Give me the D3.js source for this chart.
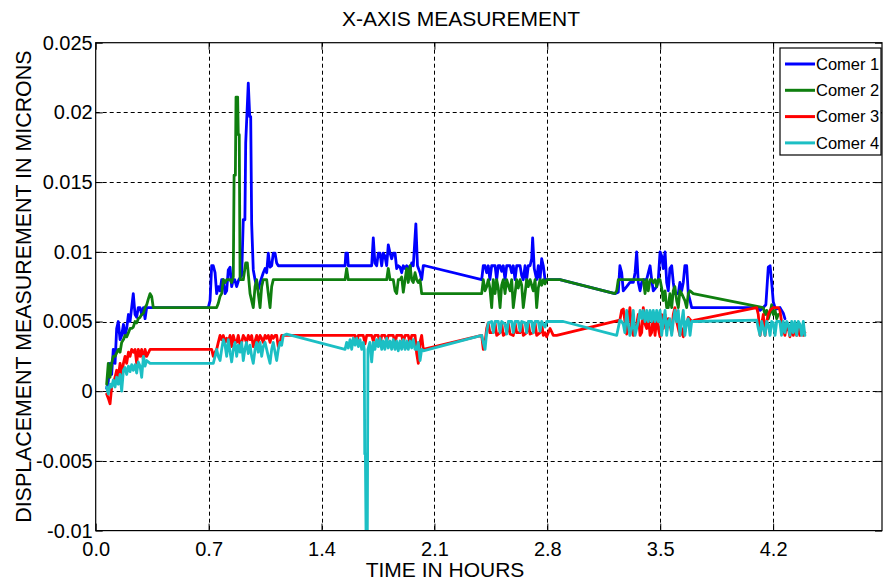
<!DOCTYPE html>
<html>
<head>
<meta charset="utf-8">
<script src="https://cdn.jsdelivr.net/npm/d3@7"></script>
<style>
  html, body { margin: 0; padding: 0; background: #fff; }
  svg { display: block; font-family: "Liberation Sans", Arial, sans-serif; }
</style>
</head>
<body>
<svg id="chart" width="884" height="581"></svg>
<script>
// Displacement readings (microns) against elapsed time (hours), one series per corner.
const seriesNames = ["Comer 1", "Comer 2", "Comer 3", "Comer 4"];
const seriesColors = ["#0000ff", "#0f7f0f", "#ff0000", "#1cbfc4"];

const corner1 = [
  [0.068,0.0002],[0.078,0.0007],[0.089,0.002],[0.099,0.0012],[0.109,0.003],[0.120,0.002],[0.130,0.0045],[0.140,0.005],
  [0.151,0.0037],[0.161,0.004],[0.172,0.0048],[0.182,0.004],[0.192,0.0045],[0.203,0.0055],[0.213,0.005],[0.223,0.006],
  [0.233,0.007],[0.244,0.0055],[0.254,0.0053],[0.264,0.006],[0.275,0.006],[0.285,0.0055],[0.296,0.006],[0.306,0.0052],
  [0.316,0.006],[0.337,0.006],[0.698,0.006],[0.709,0.0065],[0.719,0.009],[0.729,0.009],[0.740,0.0085],[0.750,0.007],
  [0.760,0.0075],[0.771,0.0072],[0.781,0.008],[0.791,0.008],[0.802,0.007],[0.812,0.0072],[0.822,0.0087],[0.833,0.0089],
  [0.843,0.0075],[0.853,0.008],[0.862,0.008],[0.874,0.0075],[0.887,0.008],[0.905,0.0083],[0.915,0.0123],[0.925,0.0123],
  [0.930,0.0178],[0.946,0.0221],[0.955,0.0197],[0.961,0.0197],[0.967,0.012],[0.977,0.0087],[0.988,0.008],[0.998,0.0075],
  [1.008,0.0073],[1.019,0.0078],[1.039,0.0085],[1.050,0.0088],[1.060,0.0085],[1.070,0.0099],[1.081,0.0089],[1.091,0.009],
  [1.101,0.0099],[1.112,0.0099],[1.122,0.0092],[1.132,0.009],[1.143,0.009],[1.546,0.009],[1.551,0.0099],[1.561,0.0099],
  [1.566,0.009],[1.711,0.009],[1.721,0.011],[1.731,0.0092],[1.742,0.009],[1.752,0.0099],[1.763,0.0099],[1.773,0.009],
  [1.783,0.0099],[1.793,0.0097],[1.804,0.009],[1.814,0.0105],[1.825,0.0099],[1.835,0.0095],[1.845,0.0099],[1.856,0.0099],
  [1.866,0.0088],[1.876,0.009],[1.887,0.0089],[1.897,0.0085],[1.907,0.009],[1.918,0.0088],[1.928,0.009],[1.938,0.0089],
  [1.949,0.0087],[1.959,0.0092],[1.969,0.009],[1.985,0.012],[1.995,0.009],[2.011,0.0085],[2.021,0.008],[2.031,0.009],
  [2.042,0.009],[2.393,0.008],[2.403,0.009],[2.414,0.009],[2.424,0.0085],[2.434,0.009],[2.444,0.008],[2.455,0.009],
  [2.465,0.009],[2.476,0.009],[2.486,0.008],[2.496,0.009],[2.507,0.009],[2.517,0.0086],[2.527,0.009],[2.538,0.008],
  [2.548,0.009],[2.569,0.009],[2.579,0.0085],[2.589,0.009],[2.600,0.008],[2.610,0.009],[2.631,0.009],[2.641,0.0083],
  [2.651,0.008],[2.662,0.009],[2.672,0.008],[2.682,0.009],[2.693,0.009],[2.703,0.0095],[2.709,0.011],[2.719,0.0088],
  [2.734,0.008],[2.744,0.009],[2.755,0.008],[2.765,0.0095],[2.775,0.009],[2.786,0.008],[2.796,0.008],[2.878,0.008],
  [3.219,0.007],[3.240,0.0071],[3.250,0.009],[3.261,0.0085],[3.271,0.0072],[3.292,0.0075],[3.312,0.0078],[3.333,0.0078],
  [3.344,0.0085],[3.354,0.01],[3.364,0.0078],[3.375,0.0072],[3.385,0.0078],[3.395,0.008],[3.416,0.008],[3.426,0.0085],
  [3.437,0.009],[3.447,0.008],[3.457,0.0072],[3.478,0.0075],[3.488,0.008],[3.499,0.01],[3.509,0.0097],[3.519,0.0088],
  [3.530,0.01],[3.540,0.0078],[3.550,0.0072],[3.560,0.0088],[3.571,0.009],[3.581,0.0078],[3.591,0.007],[3.612,0.007],
  [3.622,0.0078],[3.633,0.0072],[3.643,0.0078],[3.653,0.009],[3.664,0.009],[3.674,0.007],[3.685,0.0065],[3.695,0.006],
  [4.098,0.006],[4.119,0.0058],[4.139,0.006],[4.155,0.0062],[4.170,0.0089],[4.181,0.009],[4.191,0.0078],[4.201,0.0064],
  [4.212,0.006],[4.222,0.0059],[4.242,0.006],[4.252,0.0058],[4.263,0.0056],[4.273,0.0052]
];

const corner2 = [
  [0.068,0.0005],[0.078,0.002],[0.089,0.001],[0.099,0.002],[0.109,0.0025],[0.120,0.0025],[0.140,0.003],[0.151,0.0028],
  [0.161,0.0035],[0.172,0.0037],[0.182,0.004],[0.192,0.0039],[0.203,0.0042],[0.213,0.0045],[0.223,0.0045],[0.233,0.0046],
  [0.244,0.005],[0.254,0.0049],[0.264,0.0052],[0.275,0.0053],[0.285,0.0055],[0.296,0.0056],[0.306,0.006],[0.316,0.0062],
  [0.326,0.0066],[0.337,0.007],[0.347,0.0068],[0.357,0.006],[0.750,0.006],[0.760,0.0063],[0.771,0.0068],[0.781,0.007],
  [0.791,0.008],[0.802,0.0078],[0.812,0.008],[0.822,0.008],[0.833,0.008],[0.843,0.0078],[0.853,0.0082],[0.858,0.0155],
  [0.866,0.0155],[0.870,0.0211],[0.880,0.0211],[0.884,0.0184],[0.890,0.0184],[0.895,0.008],[0.915,0.008],[0.930,0.0092],
  [0.940,0.0092],[0.957,0.007],[0.967,0.0065],[0.977,0.006],[0.988,0.0075],[0.998,0.008],[1.008,0.007],[1.019,0.006],
  [1.029,0.0075],[1.039,0.008],[1.060,0.008],[1.070,0.007],[1.081,0.006],[1.091,0.0075],[1.101,0.008],[1.163,0.008],
  [1.546,0.008],[1.556,0.0088],[1.566,0.008],[1.804,0.008],[1.814,0.0088],[1.825,0.008],[1.845,0.008],[1.856,0.0072],
  [1.866,0.007],[1.876,0.008],[1.887,0.008],[1.897,0.0082],[1.907,0.0071],[1.918,0.008],[1.928,0.0088],[1.938,0.0078],
  [1.949,0.009],[1.959,0.008],[1.969,0.0078],[1.980,0.0085],[1.990,0.008],[2.000,0.0078],[2.011,0.008],[2.021,0.007],
  [2.393,0.007],[2.403,0.008],[2.414,0.0072],[2.424,0.0075],[2.434,0.008],[2.444,0.0074],[2.455,0.006],[2.465,0.008],
  [2.476,0.007],[2.486,0.008],[2.496,0.0074],[2.507,0.006],[2.517,0.0076],[2.527,0.008],[2.538,0.007],[2.548,0.008],
  [2.558,0.0076],[2.569,0.0072],[2.579,0.008],[2.589,0.006],[2.600,0.007],[2.610,0.008],[2.620,0.0074],[2.631,0.008],
  [2.641,0.0076],[2.651,0.006],[2.662,0.007],[2.672,0.008],[2.682,0.0075],[2.693,0.008],[2.703,0.0076],[2.713,0.0072],
  [2.724,0.008],[2.734,0.006],[2.744,0.0074],[2.755,0.008],[2.765,0.0076],[2.775,0.008],[2.786,0.0077],[2.796,0.008],
  [2.878,0.008],[3.219,0.007],[3.230,0.0072],[3.240,0.008],[3.395,0.008],[3.406,0.007],[3.416,0.008],[3.426,0.0072],
  [3.437,0.008],[3.447,0.008],[3.457,0.0078],[3.468,0.008],[3.478,0.0075],[3.488,0.008],[3.499,0.008],[3.509,0.0074],
  [3.519,0.0065],[3.530,0.0072],[3.540,0.006],[3.550,0.006],[3.560,0.007],[3.571,0.006],[3.581,0.0072],[3.591,0.0075],
  [3.602,0.0065],[3.612,0.006],[3.622,0.0072],[3.633,0.007],[3.653,0.0065],[3.664,0.006],[3.674,0.007],[3.685,0.0072],
  [3.705,0.007],[4.139,0.006],[4.150,0.0055],[4.160,0.0058],[4.170,0.0052],[4.181,0.0056],[4.191,0.0062],[4.201,0.0055],
  [4.212,0.0058],[4.222,0.0052],[4.232,0.0055]
];

const corner3 = [
  [0.068,-0.0002],[0.078,-0.0005],[0.089,-0.0009],[0.099,0.0003],[0.109,0.0006],[0.120,0.001],[0.130,0.0015],[0.140,0.001],
  [0.151,0.002],[0.161,0.0012],[0.172,0.002],[0.182,0.0025],[0.192,0.002],[0.203,0.0028],[0.213,0.0025],[0.223,0.003],
  [0.233,0.0028],[0.244,0.003],[0.254,0.002],[0.264,0.003],[0.275,0.0025],[0.285,0.003],[0.296,0.0022],[0.306,0.003],
  [0.316,0.0025],[0.337,0.003],[0.357,0.003],[0.719,0.003],[0.729,0.0025],[0.740,0.0028],[0.750,0.003],[0.760,0.0035],
  [0.771,0.004],[0.781,0.0037],[0.791,0.004],[0.802,0.0035],[0.812,0.0038],[0.822,0.0035],[0.833,0.004],[0.843,0.0032],
  [0.853,0.004],[0.864,0.0035],[0.874,0.0035],[0.884,0.004],[0.895,0.0033],[0.905,0.0035],[0.915,0.004],[0.925,0.0038],
  [0.935,0.0035],[0.946,0.004],[0.957,0.0037],[0.967,0.004],[0.977,0.0032],[0.988,0.0036],[0.998,0.004],[1.008,0.0035],
  [1.019,0.004],[1.029,0.0038],[1.039,0.0035],[1.050,0.004],[1.060,0.0038],[1.070,0.004],[1.081,0.0035],[1.091,0.004],
  [1.101,0.0038],[1.112,0.004],[1.122,0.004],[1.132,0.0032],[1.143,0.0035],[1.153,0.004],[1.163,0.004],[1.566,0.004],
  [1.608,0.004],[1.618,0.0035],[1.628,0.004],[1.659,0.004],[1.670,0.0034],[1.680,0.004],[1.711,0.004],[1.721,0.0036],
  [1.731,0.004],[1.752,0.004],[1.763,0.0033],[1.773,0.004],[1.793,0.004],[1.804,0.0036],[1.814,0.004],[1.845,0.004],
  [1.856,0.0034],[1.866,0.004],[1.897,0.004],[1.907,0.0035],[1.918,0.004],[1.938,0.004],[1.949,0.0034],[1.959,0.004],
  [1.980,0.004],[1.990,0.0027],[2.000,0.002],[2.011,0.0035],[2.021,0.004],[2.031,0.003],[2.393,0.004],[2.403,0.003],
  [2.414,0.0035],[2.424,0.0045],[2.434,0.0049],[2.444,0.0042],[2.465,0.0042],[2.476,0.0049],[2.486,0.004],[2.507,0.0042],
  [2.517,0.0049],[2.527,0.004],[2.548,0.0042],[2.558,0.0049],[2.569,0.0041],[2.589,0.004],[2.600,0.0049],[2.610,0.0042],
  [2.631,0.0042],[2.641,0.0049],[2.651,0.004],[2.672,0.0042],[2.682,0.0049],[2.693,0.0041],[2.713,0.0042],[2.724,0.0049],
  [2.734,0.004],[2.755,0.0042],[2.765,0.0049],[2.775,0.004],[2.786,0.0042],[2.796,0.0039],[2.817,0.0045],[2.837,0.004],
  [2.858,0.004],[3.250,0.0051],[3.261,0.0058],[3.271,0.0059],[3.292,0.0041],[3.312,0.006],[3.323,0.0045],[3.333,0.004],
  [3.344,0.0045],[3.354,0.0048],[3.364,0.0055],[3.375,0.004],[3.385,0.0042],[3.395,0.006],[3.406,0.0048],[3.416,0.0045],
  [3.426,0.0055],[3.437,0.004],[3.447,0.0042],[3.457,0.0055],[3.468,0.004],[3.478,0.0052],[3.488,0.0045],[3.499,0.0039],
  [3.509,0.0055],[3.519,0.0045],[3.530,0.0055],[3.540,0.0045],[3.550,0.0052],[3.560,0.0048],[3.571,0.0042],[3.581,0.0055],
  [3.591,0.006],[3.602,0.005],[3.612,0.0045],[3.622,0.004],[3.633,0.0045],[3.643,0.0039],[3.653,0.0045],[3.664,0.0048],
  [3.674,0.0053],[3.695,0.005],[3.716,0.0051],[4.098,0.006],[4.108,0.0055],[4.119,0.004],[4.129,0.0048],[4.139,0.0055],
  [4.150,0.004],[4.160,0.005],[4.170,0.0055],[4.181,0.0058],[4.201,0.006],[4.222,0.006],[4.232,0.006],[4.242,0.0058],
  [4.252,0.005],[4.263,0.0045],[4.273,0.004],[4.284,0.0048],[4.294,0.0045],[4.304,0.0039],[4.315,0.0045],[4.325,0.004],
  [4.335,0.0046],[4.346,0.004],[4.356,0.0048],[4.366,0.004],[4.377,0.0046],[4.387,0.004],[4.397,0.0042]
];

const corner4 = [
  [0.068,0.0003],[0.078,-0.0002],[0.089,0.0005],[0.099,0.0003],[0.109,0.0008],[0.120,0.0003],[0.130,0.001],[0.140,0.0005],
  [0.151,0.0012],[0.161,0.0],[0.172,0.0015],[0.182,0.0017],[0.192,0.0012],[0.203,0.0018],[0.213,0.0014],[0.223,0.0019],
  [0.233,0.0015],[0.244,0.0019],[0.254,0.0013],[0.264,0.0021],[0.275,0.0018],[0.285,0.001],[0.296,0.0025],[0.306,0.0018],
  [0.316,0.0022],[0.337,0.002],[0.357,0.002],[0.729,0.002],[0.740,0.0025],[0.750,0.003],[0.760,0.0025],[0.771,0.0022],
  [0.781,0.003],[0.791,0.0037],[0.802,0.0033],[0.812,0.0025],[0.822,0.0037],[0.833,0.0028],[0.843,0.0021],[0.853,0.003],
  [0.864,0.0035],[0.874,0.0025],[0.884,0.0033],[0.895,0.0028],[0.905,0.0035],[0.915,0.0022],[0.925,0.003],[0.935,0.0035],
  [0.946,0.0027],[0.957,0.0033],[0.967,0.0025],[0.977,0.002],[0.988,0.003],[0.998,0.0035],[1.008,0.0028],[1.019,0.0035],
  [1.029,0.0025],[1.039,0.0032],[1.050,0.0035],[1.060,0.003],[1.070,0.0025],[1.081,0.002],[1.091,0.003],[1.101,0.0035],
  [1.112,0.0028],[1.122,0.0022],[1.132,0.003],[1.143,0.0035],[1.153,0.0033],[1.163,0.004],[1.184,0.0041],[1.546,0.003],
  [1.556,0.0035],[1.566,0.0031],[1.577,0.0037],[1.587,0.003],[1.597,0.0038],[1.608,0.0033],[1.618,0.0038],[1.628,0.0032],
  [1.639,0.0037],[1.649,0.003],[1.659,0.0035],[1.665,0.003],[1.668,-0.0045],[1.672,-0.0045],[1.676,-0.0102],[1.684,-0.0102],
  [1.688,0.003],[1.700,0.0035],[1.711,0.0021],[1.721,0.0035],[1.731,0.003],[1.742,0.0037],[1.752,0.0032],[1.763,0.0038],
  [1.773,0.003],[1.783,0.0036],[1.793,0.003],[1.804,0.0038],[1.814,0.0031],[1.825,0.0036],[1.835,0.003],[1.845,0.0037],
  [1.856,0.003],[1.866,0.0036],[1.876,0.0029],[1.887,0.0036],[1.897,0.003],[1.907,0.0037],[1.918,0.003],[1.928,0.0036],
  [1.938,0.003],[1.949,0.0036],[1.959,0.0031],[1.969,0.0037],[1.980,0.003],[1.990,0.003],[2.000,0.0035],[2.011,0.0022],
  [2.021,0.003],[2.031,0.0029],[2.393,0.004],[2.403,0.0035],[2.414,0.003],[2.424,0.0042],[2.434,0.0049],[2.455,0.005],
  [2.465,0.0042],[2.476,0.005],[2.496,0.005],[2.507,0.0042],[2.517,0.005],[2.538,0.0048],[2.548,0.0041],[2.558,0.005],
  [2.579,0.005],[2.589,0.0042],[2.600,0.005],[2.620,0.005],[2.631,0.0043],[2.641,0.005],[2.662,0.0049],[2.672,0.0042],
  [2.682,0.005],[2.703,0.005],[2.713,0.0042],[2.724,0.005],[2.744,0.005],[2.755,0.0043],[2.765,0.005],[2.786,0.0046],
  [2.796,0.005],[2.899,0.005],[3.230,0.004],[3.250,0.0051],[3.261,0.005],[3.271,0.0048],[3.281,0.0042],[3.292,0.0058],
  [3.302,0.0048],[3.312,0.004],[3.323,0.0045],[3.333,0.0058],[3.344,0.004],[3.354,0.0045],[3.364,0.005],[3.375,0.0058],
  [3.385,0.0052],[3.395,0.0058],[3.406,0.005],[3.416,0.0058],[3.426,0.005],[3.437,0.0058],[3.447,0.005],[3.457,0.0058],
  [3.468,0.005],[3.478,0.0058],[3.488,0.005],[3.499,0.0058],[3.509,0.004],[3.519,0.005],[3.530,0.0058],[3.540,0.004],
  [3.550,0.005],[3.560,0.0052],[3.571,0.004],[3.581,0.005],[3.591,0.0058],[3.602,0.005],[3.612,0.0058],[3.622,0.004],
  [3.633,0.005],[3.643,0.0058],[3.653,0.004],[3.664,0.005],[3.674,0.0052],[3.685,0.004],[3.695,0.005],[3.716,0.005],
  [4.098,0.0051],[4.108,0.0045],[4.119,0.004],[4.129,0.005],[4.139,0.0045],[4.150,0.004],[4.160,0.005],[4.170,0.0048],
  [4.181,0.004],[4.191,0.005],[4.201,0.0049],[4.212,0.004],[4.222,0.005],[4.242,0.005],[4.252,0.004],[4.263,0.005],
  [4.273,0.0042],[4.284,0.005],[4.294,0.0048],[4.304,0.004],[4.315,0.005],[4.325,0.0042],[4.335,0.005],[4.346,0.004],
  [4.356,0.005],[4.366,0.0048],[4.377,0.004],[4.387,0.005],[4.397,0.004]
];

const xTicks = [0, 0.7, 1.4, 2.1, 2.8, 3.5, 4.2];
const xTickLabels = ["0.0", "0.7", "1.4", "2.1", "2.8", "3.5", "4.2"];
const yTicks = [-0.01, -0.005, 0, 0.005, 0.01, 0.015, 0.02, 0.025];
const yTickLabels = ["-0.01", "-0.005", "0", "0.005", "0.01", "0.015", "0.02", "0.025"];
const xDomain = [0, 4.875];
const yDomain = [-0.01, 0.025];

const titleText = "X-AXIS MEASUREMENT";
const xLabelText = "TIME IN HOURS";
const yLabelText = "DISPLACEMENT MEASUREMENT IN MICRONS";

// ---- layout ----
const svg = d3.select("#chart");
const plot = { left: 95.7, right: 882, top: 42.7, bottom: 530.6 };

const x = d3.scaleLinear().domain(xDomain).range([plot.left, plot.right]);
const y = d3.scaleLinear().domain(yDomain).range([plot.bottom, plot.top]);

svg.append("defs").append("clipPath").attr("id", "plot-clip")
  .append("rect")
  .attr("x", plot.left).attr("y", plot.top)
  .attr("width", plot.right - plot.left).attr("height", plot.bottom - plot.top);

// dashed grid
const grid = svg.append("g").attr("class", "grid")
  .attr("stroke", "#000").attr("stroke-width", 1).attr("stroke-dasharray", "4,3");
grid.selectAll("line.gx").data(xTicks.filter(t => t > xDomain[0]))
  .join("line").attr("class", "gx")
  .attr("x1", d => Math.round(x(d)) + 0.5).attr("x2", d => Math.round(x(d)) + 0.5)
  .attr("y1", plot.top).attr("y2", plot.bottom);
grid.selectAll("line.gy").data(yTicks.filter(t => t > yDomain[0] && t < yDomain[1]))
  .join("line").attr("class", "gy")
  .attr("y1", d => Math.round(y(d)) + 0.5).attr("y2", d => Math.round(y(d)) + 0.5)
  .attr("x1", plot.left).attr("x2", plot.right);

// data lines
const line = d3.line().x(d => x(d[0])).y(d => y(d[1]));
const allSeries = [corner1, corner2, corner3, corner4];
svg.append("g").attr("clip-path", "url(#plot-clip)")
  .selectAll("path").data(allSeries).join("path")
  .attr("d", line)
  .attr("fill", "none")
  .attr("stroke", (d, i) => seriesColors[i])
  .attr("stroke-width", 2.8)
  .attr("stroke-linejoin", "round")
  .attr("stroke-linecap", "round");

// axes with inward ticks on all four sides
const tickLen = 7;
const fmtX = (d) => xTickLabels[xTicks.indexOf(d)];
const fmtY = (d) => yTickLabels[yTicks.indexOf(d)];

const axB = svg.append("g").attr("transform", `translate(0,${plot.bottom})`)
  .call(d3.axisBottom(x).tickValues(xTicks).tickFormat(fmtX).tickSizeInner(-tickLen).tickSizeOuter(0).tickPadding(11));
const axL = svg.append("g").attr("transform", `translate(${plot.left},0)`)
  .call(d3.axisLeft(y).tickValues(yTicks).tickFormat(fmtY).tickSizeInner(-tickLen).tickSizeOuter(0).tickPadding(3));
const axT = svg.append("g").attr("transform", `translate(0,${plot.top})`)
  .call(d3.axisTop(x).tickValues(xTicks).tickFormat("").tickSizeInner(-tickLen).tickSizeOuter(0));
const axR = svg.append("g").attr("transform", `translate(${plot.right},0)`)
  .call(d3.axisRight(y).tickValues(yTicks).tickFormat("").tickSizeInner(-tickLen).tickSizeOuter(0));

[axB, axL, axT, axR].forEach(g => {
  g.select(".domain").remove();
  g.selectAll(".tick line").attr("stroke", "#000").attr("stroke-width", 1);
  g.selectAll(".tick text").attr("fill", "#000").attr("font-size", 20)
    .attr("font-family", "'Liberation Sans', Arial, sans-serif");
});

// frame
svg.append("rect")
  .attr("x", plot.left).attr("y", plot.top)
  .attr("width", plot.right - plot.left).attr("height", plot.bottom - plot.top)
  .attr("fill", "none").attr("stroke", "#000").attr("stroke-width", 1.2);

// titles
svg.append("text").attr("x", 461).attr("y", 26).attr("text-anchor", "middle")
  .attr("font-size", 21).attr("fill", "#000").text(titleText);
svg.append("text").attr("x", 445).attr("y", 577).attr("text-anchor", "middle")
  .attr("font-size", 21).attr("fill", "#000").text(xLabelText);
svg.append("text")
  .attr("transform", `translate(31,${(plot.top + plot.bottom) / 2}) rotate(-90)`)
  .attr("text-anchor", "middle").attr("font-size", 21.4).attr("fill", "#000").text(yLabelText);

// legend
const legend = svg.append("g").attr("transform", "translate(780,48)");
legend.append("rect").attr("width", 101).attr("height", 107)
  .attr("fill", "#fff").attr("stroke", "#000").attr("stroke-width", 1.2);
const rows = legend.selectAll("g.row").data(seriesNames).join("g")
  .attr("class", "row")
  .attr("transform", (d, i) => `translate(0,${16 + i * 26.3})`);
rows.append("line").attr("x1", 5).attr("x2", 35).attr("y1", 0).attr("y2", 0)
  .attr("stroke", (d, i) => seriesColors[i]).attr("stroke-width", 3);
rows.append("text").attr("x", 36).attr("y", 0).attr("dy", "0.35em")
  .attr("font-size", 16.5).attr("fill", "#000").text(d => d);
</script>
</body>
</html>
